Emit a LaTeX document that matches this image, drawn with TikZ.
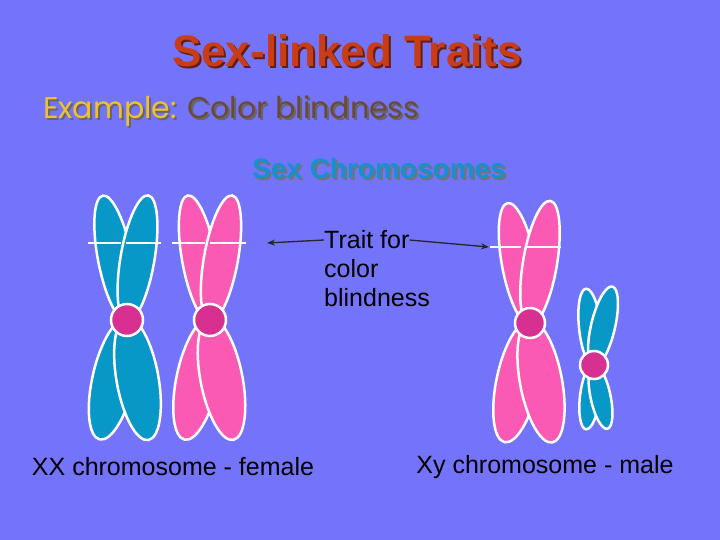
\documentclass[tikz,border=0pt]{standalone}
\usepackage{fontspec}
\setmainfont{Liberation Sans}
\newfontfamily\comic{Poppins}
\definecolor{bg}{HTML}{7474FA}
\definecolor{teal}{HTML}{0898C8}
\definecolor{pinkc}{HTML}{FA5AB4}
\definecolor{centro}{HTML}{D83090}
\definecolor{titlec}{HTML}{C83C18}
\definecolor{yel}{HTML}{F0C030}
\definecolor{brn}{HTML}{6B4A3A}
\definecolor{blu}{HTML}{1890D0}
\newcommand{\arm}[5]{\draw[armst,fill=#1,shift={(#2)},rotate=-#3] (0,0) ellipse [x radius=#4, y radius=#5];}
\tikzset{armst/.style={draw=white,line width=2.5pt},
  cen/.style={circle,fill=centro,draw=white,line width=2.5pt,inner sep=0pt},
  band/.style={white,line width=2pt},
  lbl/.style={font=\fontsize{25}{29}\selectfont,anchor=west,inner sep=0pt},
  arr/.style={-{Stealth[length=8pt,width=6pt]},line width=1.3pt,black!85}}
\usetikzlibrary{arrows.meta}
\begin{document}
\begin{tikzpicture}[x=1pt,y=-1pt]
\fill[bg] (0,0) rectangle (720,540);
% titles
\node[text=titlec!50!black,font=\bfseries\fontsize{44}{50}\selectfont] at (349,53) {Sex-linked Traits};
\node[text=titlec,font=\bfseries\fontsize{44}{50}\selectfont] (title) at (347,51) {Sex-linked Traits};
\node[anchor=west,font=\comic\fontsize{30}{34}\selectfont,text=black!60,inner sep=0pt] at (45,113) {Example: \textcolor{black!60}{Color blindness}};
\node[anchor=west,font=\comic\fontsize{30}{34}\selectfont,text=yel,inner sep=0pt] (ex) at (43,111) {Example: \textcolor{brn}{Color blindness}};
\node[font=\bfseries\fontsize{28}{32}\selectfont,text=black!55] at (381,170) {Sex Chromosomes};
\node[font=\bfseries\fontsize{28}{32}\selectfont,text=blu] (sc) at (379,168) {Sex Chromosomes};
% female 1 (teal)
\arm{teal}{115,258.5}{-101}{64}{17}
\arm{teal}{137.5,258.5}{-80.3}{64}{17}
\arm{teal}{113.5,379}{102.9}{62}{21}
\arm{teal}{137.5,379}{79.9}{62}{21}
\draw[band] (88,243) -- (121,243); \draw[band] (126,243) -- (161,243);
\node[cen,minimum size=32pt] (c1) at (127,320) {};
% female 2 (pink)
\arm{pinkc}{199,258.5}{-100.1}{64}{17}
\arm{pinkc}{221,258.5}{-79.9}{64}{17}
\arm{pinkc}{197.5,379}{102}{62}{21}
\arm{pinkc}{221.5,379}{79}{62}{21}
\draw[band] (172,243) -- (205,243); \draw[band] (210,243) -- (246,243);
\node[cen,minimum size=32pt] (c2) at (210,320) {};
% male X (pink)
\arm{pinkc}{519,264}{-100.6}{62}{17}
\arm{pinkc}{540,263}{-80.5}{63}{17}
\arm{pinkc}{517.5,381.5}{102}{62}{21}
\arm{pinkc}{541,381.5}{79.4}{62}{21}
\draw[band] (490,247) -- (521,247); \draw[band] (527,247) -- (561,247);
\node[cen,minimum size=30pt] (c3) at (530,323) {};
% Y (teal)
\arm{teal}{590,327.5}{-96}{39}{11}
\arm{teal}{603,326.5}{-76.8}{41}{12}
\arm{teal}{590,396.5}{97}{33}{10}
\arm{teal}{600.5,396.5}{78}{33}{10}
\node[cen,minimum size=28pt] (c4) at (594,365) {};
% label and arrows
\node[lbl] (t1) at (324,240) {Trait for};
\node[lbl] (t2) at (324,269) {color};
\node[lbl] (t3) at (324,298) {blindness};
\coordinate (a1) at (267,243);
\coordinate (a2) at (489,247);
\draw[arr] (t1.west) -- (a1);
\draw[arr] (t1.east) -- (a2);
\node[lbl,anchor=center] (fem) at (173,467) {XX chromosome - female};
\node[lbl,anchor=center] (mal) at (545,467) {Xy chromosome - male};
\end{tikzpicture}
\end{document}
